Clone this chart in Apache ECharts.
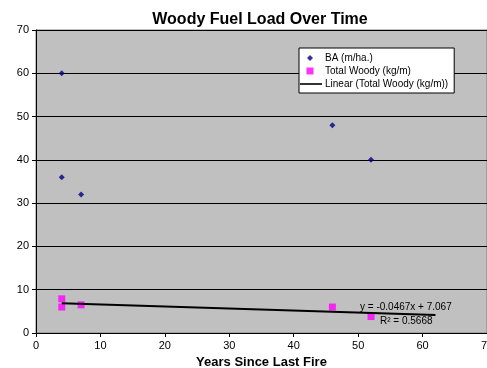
<!DOCTYPE html>
<html>
<head>
<meta charset="utf-8">
<script src="https://cdn.jsdelivr.net/npm/echarts@6/dist/echarts.min.js"></script>
<style>
  html, body { margin: 0; padding: 0; background: #fff; }
  #chart { width: 487px; height: 368px; }
</style>
</head>
<body>
<div id="chart"></div>
<script>
// BA points [years, value]
const baPoints = [[4, 60], [4, 36], [7, 32], [46, 48], [52, 40]]
// Total woody points [years, kg/m]
const woodyPoints = [[4, 7.9], [4, 6.0], [7, 6.5], [46, 6.0], [52, 3.8]]
// trendline ends
const trendPoints = [[4, 6.88], [62, 4.17]]
const trendText = ['y = -0.0467x + 7.067', 'R² = 0.5668']

const chart = echarts.init(document.getElementById('chart'))

// legend icons padded with move-to points so they keep a small size
const iconDiamond = 'path://M0,0 M22,8 M10,1 L13,4 L10,7 L7,4 Z'
const iconSquare = 'path://M0,0 M22,8 M6.5,0.5 L13.5,0.5 L13.5,7.5 L6.5,7.5 Z'
const iconLine = 'path://M0,0 M22,8 M0,3.2 L22,3.2 L22,4.8 L0,4.8 Z'

const option = {
  animation: false,
  backgroundColor: '#ffffff',
  title: {
    text: 'Woody Fuel Load Over Time',
    left: 255,
    textAlign: 'center',
    top: 7,
    textStyle: { fontFamily: 'Liberation Sans', fontSize: 16, fontWeight: 'bold', color: '#000' }
  },
  grid: {
    left: 36, right: 0, top: 30, bottom: 35,
    outerBoundsMode: 'none',
    containLabel: false,
    show: true,
    backgroundColor: '#c0c0c0',
    borderColor: '#808080',
    borderWidth: 1
  },
  legend: {
    orient: 'vertical',
    left: 299, top: 48,
    width: 154,
    padding: [5, 6, 4, 1],
    itemGap: 3,
    itemWidth: 22, itemHeight: 8,
    backgroundColor: '#fff',
    borderColor: '#000',
    borderWidth: 1,
    borderRadius: 0,
    textStyle: { fontFamily: 'Liberation Sans', fontSize: 10, color: '#000', padding: [0, 0, 0, -2] },
    data: [
      { name: 'BA (m/ha.)', icon: iconDiamond, itemStyle: { color: '#000080' } },
      { name: 'Total Woody (kg/m)', icon: iconSquare, itemStyle: { color: '#ff00ff' } },
      { name: 'Linear (Total Woody (kg/m))', icon: iconLine, itemStyle: { color: '#000' } }
    ]
  },
  xAxis: {
    type: 'value',
    min: 0, max: 70, interval: 10,
    name: 'Years Since Last Fire',
    nameLocation: 'middle',
    nameGap: 21,
    nameTextStyle: { fontFamily: 'Liberation Sans', fontSize: 13, fontWeight: 'bold', color: '#000' },
    axisLine: { lineStyle: { color: '#000' } },
    axisTick: { show: true, length: 4, lineStyle: { color: '#000' } },
    axisLabel: { fontFamily: 'Liberation Sans', fontSize: 11, color: '#000', margin: 7, hideOverlap: false },
    splitLine: { show: false }
  },
  yAxis: {
    type: 'value',
    min: 0, max: 70, interval: 10,
    axisLine: { show: true, lineStyle: { color: '#000' } },
    axisTick: { show: true, length: 4, lineStyle: { color: '#000' } },
    axisLabel: { fontFamily: 'Liberation Sans', fontSize: 11, color: '#000', margin: 7 },
    splitLine: { show: true, lineStyle: { color: '#000', width: 1 } }
  },
  series: [
    {
      name: 'BA (m/ha.)',
      type: 'scatter',
      symbol: 'diamond',
      symbolSize: 6,
      itemStyle: { color: '#000080' },
      data: baPoints
    },
    {
      name: 'Total Woody (kg/m)',
      type: 'scatter',
      symbol: 'rect',
      symbolSize: 7,
      itemStyle: { color: '#ff00ff' },
      data: woodyPoints
    },
    {
      name: 'Linear (Total Woody (kg/m))',
      type: 'line',
      symbol: 'none',
      lineStyle: { color: '#000', width: 2 },
      itemStyle: { color: '#000' },
      data: trendPoints
    }
  ],
  graphic: [
    {
      type: 'text', left: 360, top: 302,
      style: { text: trendText[0], fontFamily: 'Liberation Sans', fontSize: 10, fill: '#000' }
    },
    {
      type: 'text', left: 380, top: 316,
      style: { text: trendText[1], fontFamily: 'Liberation Sans', fontSize: 10, fill: '#000' }
    }
  ]
}

chart.setOption(option)
</script>
</body>
</html>
